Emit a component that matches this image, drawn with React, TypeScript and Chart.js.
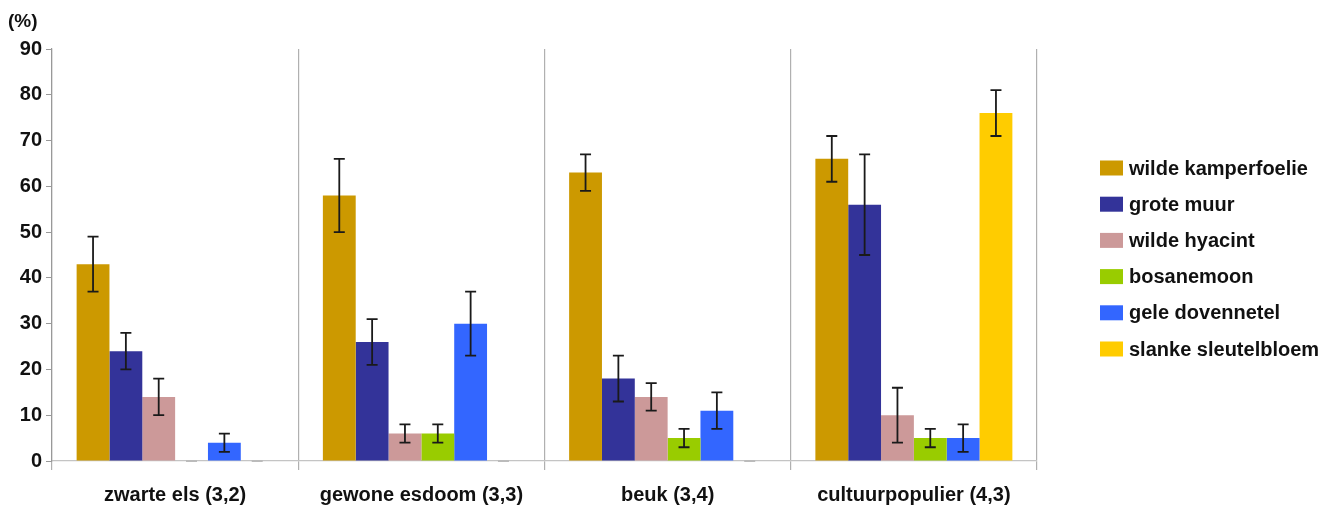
import React, { useEffect, useRef } from "react";
import { Chart, registerables } from "chart.js";

Chart.register(...registerables);

const categories = ["zwarte els (3,2)", "gewone esdoom (3,3)", "beuk (3,4)", "cultuurpopulier (4,3)"];

const seriesNames = [
  "wilde kamperfoelie",
  "grote muur",
  "wilde hyacint",
  "bosanemoon",
  "gele dovennetel",
  "slanke sleutelbloem",
];

const seriesColors = ["#CC9900", "#333399", "#CC9999", "#99CC00", "#3366FF", "#FFCC00"];

const kamperfoelie = [43, 58, 63, 66];
const kamperfoelieLow = [37, 50, 59, 61];
const kamperfoelieHigh = [49, 66, 67, 71];

const groteMuur = [24, 26, 18, 56];
const groteMuurLow = [20, 21, 13, 45];
const groteMuurHigh = [28, 31, 23, 67];

const hyacint = [14, 6, 14, 10];
const hyacintLow = [10, 4, 11, 4];
const hyacintHigh = [18, 8, 17, 16];

const bosanemoon = [0, 6, 5, 5];
const bosanemoonLow = [0, 4, 3, 3];
const bosanemoonHigh = [0, 8, 7, 7];

const dovennetel = [4, 30, 11, 5];
const dovennetelLow = [2, 23, 7, 2];
const dovennetelHigh = [6, 37, 15, 8];

const sleutelbloem = [0, 0, 0, 76];
const sleutelbloemLow = [0, 0, 0, 71];
const sleutelbloemHigh = [0, 0, 0, 81];

const seriesValues = [kamperfoelie, groteMuur, hyacint, bosanemoon, dovennetel, sleutelbloem];
const seriesLow = [kamperfoelieLow, groteMuurLow, hyacintLow, bosanemoonLow, dovennetelLow, sleutelbloemLow];
const seriesHigh = [kamperfoelieHigh, groteMuurHigh, hyacintHigh, bosanemoonHigh, dovennetelHigh, sleutelbloemHigh];

const yTicks = [0, 10, 20, 30, 40, 50, 60, 70, 80, 90];
const unitLabel = "(%)";

const FONT = "'Liberation Sans', Arial, sans-serif";

const errorBarPlugin = {
  id: "errorBars",
  afterDatasetsDraw(chart: any) {
    const ctx = chart.ctx;
    const yScale = chart.scales.y;
    chart.data.datasets.forEach((ds: any, i: number) => {
      const meta = chart.getDatasetMeta(i);
      meta.data.forEach((el: any, j: number) => {
        const lo = seriesLow[i][j];
        const hi = seriesHigh[i][j];
        const x = el.x;
        const yLo = yScale.getPixelForValue(lo);
        const yHi = yScale.getPixelForValue(hi);
        const cap = 5.5;
        ctx.save();
        ctx.lineWidth = 1.8;
        ctx.strokeStyle = lo === hi ? "#bbbbbb" : "#1a1a1a";
        ctx.beginPath();
        if (lo !== hi) {
          ctx.moveTo(x, yLo);
          ctx.lineTo(x, yHi);
        }
        ctx.moveTo(x - cap, yLo);
        ctx.lineTo(x + cap, yLo);
        ctx.moveTo(x - cap, yHi);
        ctx.lineTo(x + cap, yHi);
        ctx.stroke();
        ctx.restore();
      });
    });
  },
};

const customLegendPlugin = {
  id: "customLegend",
  afterDraw(chart: any) {
    const ctx = chart.ctx;
    const boxX = 1100;
    const boxW = 23;
    const boxH = 15;
    const firstY = 168;
    const rowGap = 36.2;
    ctx.save();
    ctx.font = `bold 20px ${FONT}`;
    ctx.textBaseline = "middle";
    ctx.textAlign = "left";
    chart.data.datasets.forEach((ds: any, i: number) => {
      const cy = firstY + i * rowGap;
      ctx.fillStyle = ds.backgroundColor;
      ctx.fillRect(boxX, cy - boxH / 2, boxW, boxH);
      ctx.fillStyle = "#111111";
      ctx.fillText(ds.label, boxX + boxW + 6, cy + 1);
    });
    ctx.font = `bold 19px ${FONT}`;
    ctx.fillText(unitLabel, 8, 22);
    ctx.restore();
  },
};

export default function App() {
  const canvasRef = useRef<HTMLCanvasElement | null>(null);

  useEffect(() => {
    if (!canvasRef.current) return;
    const chart = new Chart(canvasRef.current, {
      type: "bar",
      data: {
        labels: categories,
        datasets: seriesNames.map((name, i) => ({
          label: name,
          data: seriesValues[i],
          backgroundColor: seriesColors[i],
          borderWidth: 0,
          categoryPercentage: 0.8,
          barPercentage: 1.0,
        })),
      },
      options: {
        animation: false,
        responsive: false,
        devicePixelRatio: 1,
        layout: { padding: { left: 0, right: 307, top: 49, bottom: 0 } },
        plugins: {
          legend: { display: false },
          tooltip: { enabled: false },
          title: { display: false },
        },
        scales: {
          x: {
            type: "category",
            offset: true,
            grid: {
              offset: true,
              display: true,
              drawOnChartArea: true,
              drawTicks: true,
              tickLength: 9,
              color: "#b0b0b0",
              lineWidth: 1.2,
            },
            border: { display: true, color: "#c4c4c4", width: 1.2 },
            ticks: {
              color: "#111111",
              font: { family: FONT, size: 20, weight: "bold" },
              padding: 13,
              maxRotation: 0,
              autoSkip: false,
            },
            afterFit(scale: any) {
              scale.height = 49;
            },
          },
          y: {
            min: 0,
            max: 90,
            afterBuildTicks(scale: any) {
              scale.ticks = yTicks.map((v) => ({ value: v }));
            },
            grid: {
              drawOnChartArea: false,
              drawTicks: true,
              tickLength: 6,
              color: "#999999",
            },
            border: { display: true, color: "#999999", width: 1.2 },
            ticks: {
              color: "#111111",
              font: { family: FONT, size: 20, weight: "bold" },
              padding: 4,
            },
            afterFit(scale: any) {
              scale.width = 52;
            },
          },
        },
      },
      plugins: [errorBarPlugin, customLegendPlugin],
    } as any);
    return () => chart.destroy();
  }, []);

  return (
    <div style={{ position: "fixed", left: 0, top: 0, width: 1344, height: 510, background: "#ffffff" }}>
      <canvas ref={canvasRef} width={1344} height={510} style={{ display: "block" }} />
    </div>
  );
}
